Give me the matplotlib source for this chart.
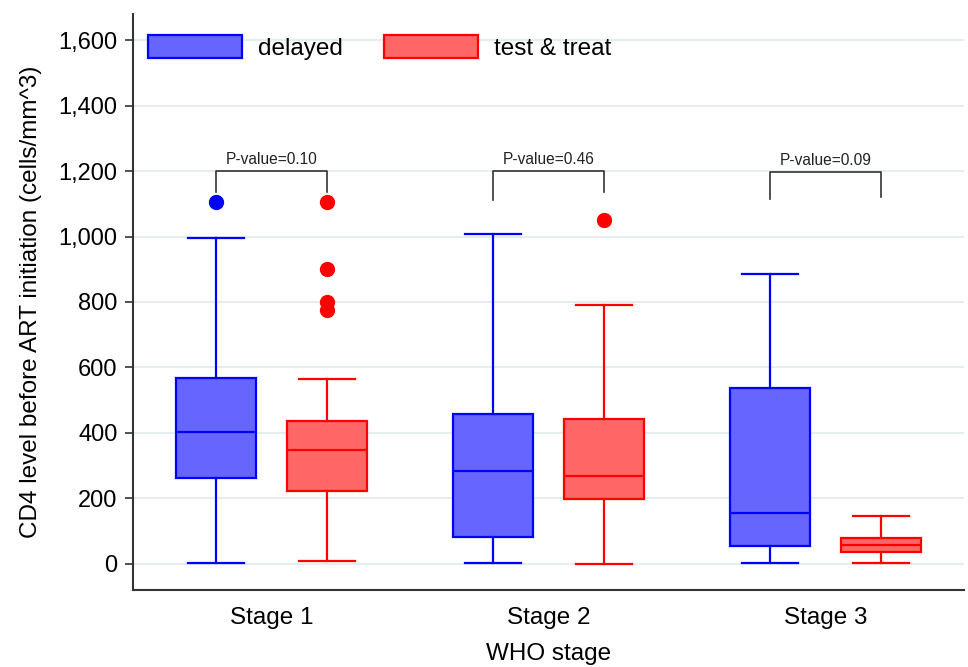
import matplotlib
matplotlib.use("Agg")
import matplotlib.pyplot as plt
from matplotlib.patches import Patch

plt.rcParams['font.family'] = ['Liberation Sans', 'DejaVu Sans']

# ---------------- data ----------------
stages = ['Stage 1', 'Stage 2', 'Stage 3']
groups = ['delayed', 'test & treat']

# whisker low, Q1, median, Q3, whisker high
delayed_low = [2, 4, 2]
delayed_q1 = [262, 81, 53]
delayed_med = [402, 285, 155]
delayed_q3 = [567, 457, 538]
delayed_high = [997, 1008, 887]
delayed_out = [[1106], [], []]

tt_low = [9, 0, 2]
tt_q1 = [221, 198, 36]
tt_med = [348, 269, 58]
tt_q3 = [437, 442, 78]
tt_high = [565, 791, 145]
tt_out = [[1106, 900, 799, 775], [1050], []]

p_labels = ['P-value=0.10', 'P-value=0.46', 'P-value=0.09']
bracket_top = [1200, 1200, 1198]
bracket_left_end = [1137, 1111, 1114]
bracket_right_end = [1137, 1136, 1121]

blue_edge, blue_face = '#0000ff', '#6666ff'
red_edge, red_face = '#ff0000', '#ff6666'


def make_stats(low, q1, med, q3, high, out):
    return [dict(whislo=low[i], q1=q1[i], med=med[i], q3=q3[i], whishi=high[i],
                 fliers=out[i]) for i in range(len(low))]


fig = plt.figure(figsize=(9.68, 6.67), dpi=100)
ax = fig.add_axes([133/968, 1-590/667, 831/968, 576/667])

centers = [1, 2, 3]
off = 0.2

for stats, pos, ec, fc in [
        (make_stats(delayed_low, delayed_q1, delayed_med, delayed_q3, delayed_high, delayed_out),
         [c - off for c in centers], blue_edge, blue_face),
        (make_stats(tt_low, tt_q1, tt_med, tt_q3, tt_high, tt_out),
         [c + off for c in centers], red_edge, red_face)]:
    ax.bxp(stats, positions=pos, widths=0.29, patch_artist=True, showfliers=True,
           boxprops=dict(facecolor=fc, edgecolor=ec, linewidth=1.6),
           medianprops=dict(color=ec, linewidth=1.6),
           whiskerprops=dict(color=ec, linewidth=1.6),
           capprops=dict(color=ec, linewidth=1.6),
           capwidths=0.2,
           flierprops=dict(marker='o', markerfacecolor=ec, markeredgecolor=ec,
                           markersize=10, linestyle='none'),
           zorder=3)

# p-value brackets
for i, c in enumerate(centers):
    xl, xr = c - off, c + off
    ax.plot([xl, xl, xr, xr],
            [bracket_left_end[i], bracket_top[i], bracket_top[i], bracket_right_end[i]],
            color='#333333', linewidth=1.2, zorder=3)
    ax.text(c, bracket_top[i] + 12, p_labels[i], ha='center', va='bottom',
            fontsize=11.2, color='#222222')

ax.set_xlim(0.5, 3.5)
ax.set_ylim(-80, 1680)
ax.set_xticks(centers)
ax.set_xticklabels(stages, fontsize=17.5)
ax.set_yticks(range(0, 1601, 200))
ax.set_yticklabels([f'{v:,}' for v in range(0, 1601, 200)], fontsize=17)
ax.tick_params(axis='x', length=0, pad=12)
ax.tick_params(axis='y', length=6, width=1.2, color='#333333', pad=5)
ax.yaxis.grid(True, color='#e6edf1', linewidth=1.5)
ax.set_axisbelow(True)
for s in ['top', 'right']:
    ax.spines[s].set_visible(False)
for s in ['left', 'bottom']:
    ax.spines[s].set_color('#333333')
    ax.spines[s].set_linewidth(1.5)

ax.set_xlabel('WHO stage', fontsize=17.5, labelpad=10)
ax.set_ylabel('CD4 level before ART initiation (cells/mm^3)', fontsize=17.5, labelpad=12)

handles = [Patch(facecolor=blue_face, edgecolor=blue_edge, linewidth=1.6),
           Patch(facecolor=red_face, edgecolor=red_edge, linewidth=1.6)]
ax.legend(handles, groups, loc='upper left', bbox_to_anchor=(15/831, 1-21/576),
          ncol=2, frameon=False, fontsize=17.5, handlelength=3.87, handleheight=1.1,
          handletextpad=0.66, columnspacing=1.7, borderaxespad=0, borderpad=0)

fig.savefig('out.png', dpi=100)
